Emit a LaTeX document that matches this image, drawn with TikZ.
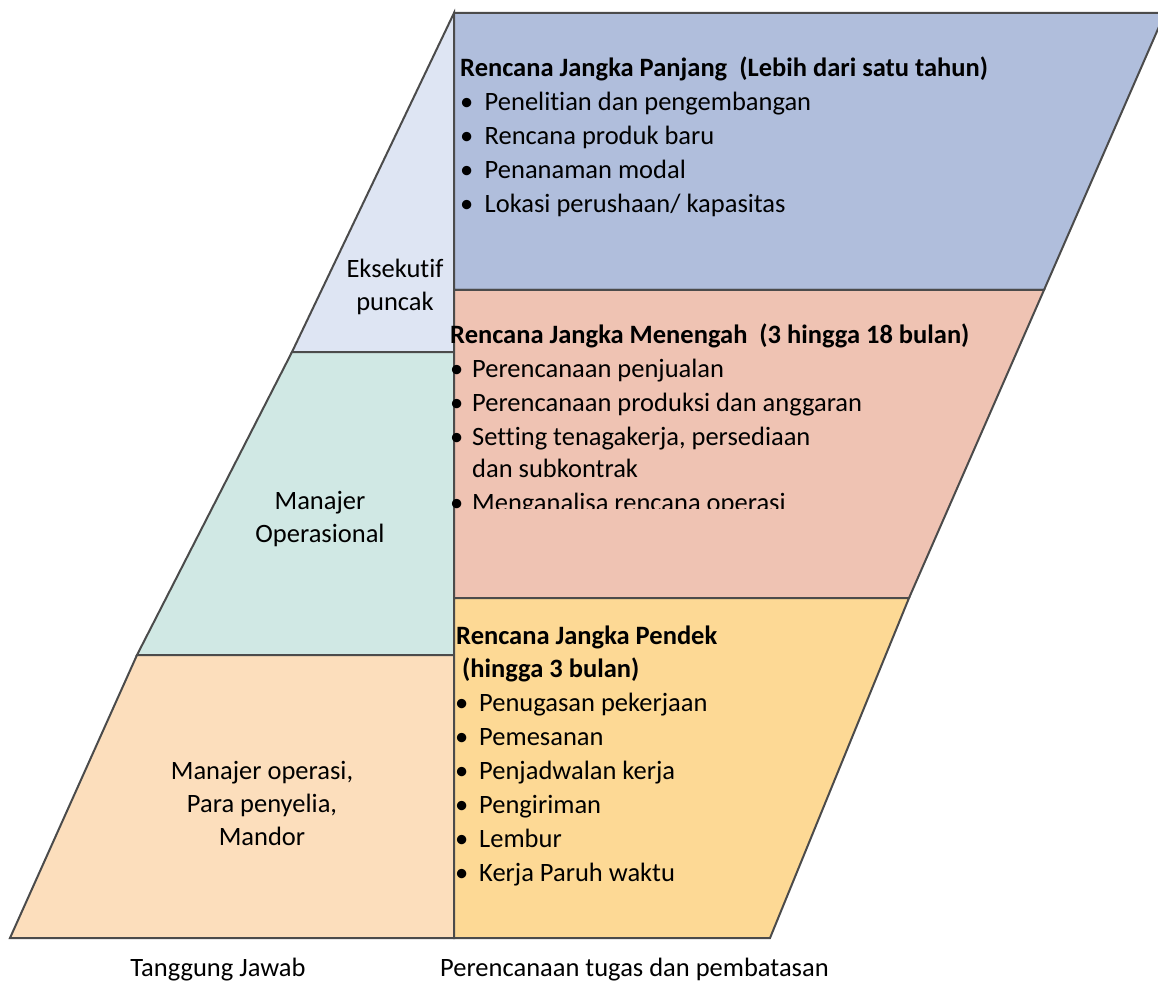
\documentclass[tikz,border=0pt]{standalone}
\usepackage{fontspec}
\setmainfont[Ligatures={NoCommon}]{Carlito}
\definecolor{linegray}{RGB}{75,75,75}
\definecolor{cLightBlue}{RGB}{222,229,243}
\definecolor{cBlue}{RGB}{176,190,220}
\definecolor{cPink}{RGB}{239,195,179}
\definecolor{cTeal}{RGB}{208,232,228}
\definecolor{cPeach}{RGB}{252,222,188}
\definecolor{cYellow}{RGB}{253,217,149}
\begin{document}
\begin{tikzpicture}[x=1pt,y=-1pt,
  reg/.style={draw=linegray,line width=2pt,line join=miter},
  txt/.style={font=\fontsize{26.5}{32}\selectfont,inner sep=0pt,anchor=base west},
  ctxt/.style={font=\fontsize{26.5}{32}\selectfont,inner sep=0pt,anchor=base},
  ttl/.style={font=\fontsize{26.5}{32}\selectfont\bfseries,inner sep=0pt,anchor=base west}]
\useasboundingbox (0,0) rectangle (1158,981);
% left column regions
\path[reg,fill=cLightBlue] (454,13) -- (454,352) -- (292,352) -- cycle;
\path[reg,fill=cTeal] (292,352) -- (454,352) -- (454,655) -- (137,655) -- cycle;
\path[reg,fill=cPeach] (137,655) -- (454,655) -- (454,938) -- (10,938) -- cycle;
% right column regions
\path[reg,fill=cBlue] (454,13) -- (1165,13) -- (1044,290) -- (454,290) -- cycle;
\path[reg,fill=cPink] (454,290) -- (1044,290) -- (909,598) -- (454,598) -- cycle;
\path[reg,fill=cYellow] (454,598) -- (909,598) -- (770,938) -- (454,938) -- cycle;
% left labels
\node[ctxt] (ek1) at (395,278) {Eksekutif};
\node[ctxt] (ek2) at (395,310) {puncak};
\node[ctxt] (mo1) at (320,509) {Manajer};
\node[ctxt] (mo2) at (320,542) {Operasional};
\node[ctxt] (mp1) at (262,779) {Manajer operasi,};
\node[ctxt] (mp2) at (262,812) {Para penyelia,};
\node[ctxt] (mp3) at (262,845) {Mandor};
% long term
\node[ttl] (lt) at (460,77) {Rencana Jangka Panjang\ \ (Lebih dari satu tahun)};
\foreach \t [count=\i] in {Penelitian dan pengembangan,Rencana produk baru,Penanaman modal,Lokasi perushaan/ kapasitas}
  \node[txt] (lt\i) at (460,{77+33.8*\i}) {\makebox[24.5pt][l]{\textbullet}\t};
% medium term
\node[ttl] (mt) at (450,343) {Rencana Jangka Menengah\ \ (3 hingga 18 bulan)};
\node[txt] (mt1) at (450,377) {\makebox[22pt][l]{\textbullet}Perencanaan penjualan};
\node[txt] (mt2) at (450,411) {\makebox[22pt][l]{\textbullet}Perencanaan produksi dan anggaran};
\node[txt] (mt3) at (450,445) {\makebox[22pt][l]{\textbullet}Setting tenagakerja, persediaan};
\node[txt] (mt3b) at (472,477) {dan subkontrak};
\begin{scope}
  \clip (440,480) rectangle (1000,508);
  \node[txt] (mt4) at (450,511) {\makebox[22pt][l]{\textbullet}Menganalisa rencana operasi};
\end{scope}
% short term
\node[ttl] (st) at (456,644) {Rencana Jangka Pendek};
\node[ttl] (stb) at (462,677) {(hingga 3 bulan)};
\foreach \t [count=\i] in {Penugasan pekerjaan,Pemesanan,Penjadwalan kerja,Pengiriman,Lembur,Kerja Paruh waktu}
  \node[txt] (st\i) at (455,{677+34*\i}) {\makebox[24pt][l]{\textbullet}\t};
% bottom labels
\node[ctxt] (tj) at (218,976) {Tanggung Jawab};
\node[txt] (pt) at (440,976) {Perencanaan tugas dan pembatasan};
\end{tikzpicture}
\end{document}
